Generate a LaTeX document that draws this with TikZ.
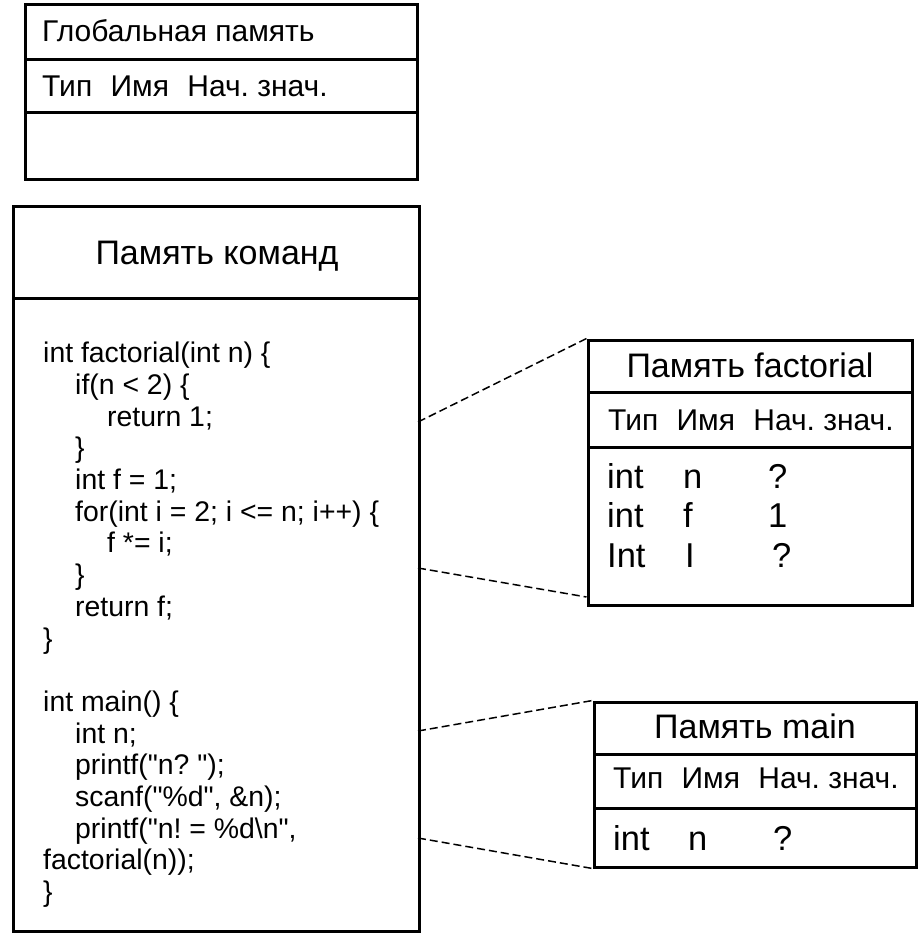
\documentclass[tikz,border=0pt]{standalone}
\usepackage{fontspec}
\setmainfont{Liberation Sans}
\frenchspacing
\begin{document}
\begin{tikzpicture}[x=1pt,y=-1pt,
  frame/.style={draw, line width=3pt, rectangle, inner sep=0pt},
  rule/.style={line width=3pt},
  link/.style={line width=1.5pt, dash pattern=on 8pt off 4pt},
  title/.style={inner sep=0pt, anchor=base, font=\fontsize{34}{40}\selectfont},
  head/.style={inner sep=0pt, anchor=base west, font=\fontsize{30}{35}\selectfont},
  cell/.style={inner sep=0pt, anchor=base west, font=\fontsize{34.5}{40}\selectfont},
  code/.style={inner sep=0pt, anchor=north west, align=left, font=\fontsize{28.4}{31.7}\selectfont}]
\useasboundingbox (0,0) rectangle (918,933);

% global memory table
\node[frame, minimum width=392pt, minimum height=175pt] (glob) at (221,92.5) {};
\draw[rule] (25,60) -- (417,60);
\draw[rule] (25,113) -- (417,113);
\node[head] (globT) at (42,42) {Глобальная память};
\node[head] (globH) at (42,97) {Тип\hspace{10pt} Имя\hspace{10pt} Нач. знач.};

% instruction memory with program text
\node[frame, minimum width=406pt, minimum height=724pt] (cmd) at (216,569) {};
\draw[rule] (13,298) -- (419,298);
\node[title] (cmdT) at (217,264) {Память команд};
\node[code] (src) at (43,342) {%
int factorial(int n) \{\\
\hspace*{32pt}if(n < 2) \{\\
\hspace*{64pt}return 1;\\
\hspace*{32pt}\}\\
\hspace*{32pt}int f = 1;\\
\hspace*{32pt}for(int i = 2; i <= n; i++) \{\\
\hspace*{64pt}f *= i;\\
\hspace*{32pt}\}\\
\hspace*{32pt}return f;\\
\}\\
\mbox{}\\
int main() \{\\
\hspace*{32pt}int n;\\
\hspace*{32pt}printf(\textquotedbl n? \textquotedbl);\\
\hspace*{32pt}scanf(\textquotedbl\%d\textquotedbl, \&n);\\
\hspace*{32pt}printf(\textquotedbl n! = \%d\textbackslash n\textquotedbl,\\
factorial(n));\\
\}};

% frame of factorial()
\node[frame, minimum width=324pt, minimum height=265pt] (fac) at (750,472.5) {};
\draw[rule] (588,392) -- (912,392);
\draw[rule] (588,447) -- (912,447);
\node[title] (facT) at (750,377) {Память factorial};
\node[head] (facH) at (608,430) {Тип\hspace{10pt} Имя\hspace{10pt} Нач. знач.};
\node[cell] (f1a) at (607,488) {int};
\node[cell] (f1b) at (683,488) {n};
\node[cell] (f1c) at (768,488) {?};
\node[cell] (f2a) at (607,527) {int};
\node[cell] (f2b) at (683,527) {f};
\node[cell] (f2c) at (768,527) {1};
\node[cell] (f3a) at (607,567) {Int};
\node[cell] (f3b) at (685,567) {I};
\node[cell] (f3c) at (772,567) {?};

% frame of main()
\node[frame, minimum width=322pt, minimum height=165pt] (mn) at (755,784.5) {};
\draw[rule] (594,754) -- (916,754);
\draw[rule] (594,808) -- (916,808);
\node[title] (mnT) at (755,738) {Память main};
\node[head] (mnH) at (613,788) {Тип\hspace{10pt} Имя\hspace{10pt} Нач. знач.};
\node[cell] (m1a) at (613,850) {int};
\node[cell] (m1b) at (688,850) {n};
\node[cell] (m1c) at (773,850) {?};

% code ranges mapped to their frames
\coordinate (facTop) at (418,422);
\coordinate (facBot) at (418,568);
\coordinate (mnTop) at (418,731);
\coordinate (mnBot) at (418,838);
\draw[link] (facTop) -- (fac.north west);
\draw[link] (facBot) -- (fac.west |- 0,597);
\draw[link] (mnTop) -- (mn.north west);
\draw[link] (mnBot) -- (mn.south west);
\end{tikzpicture}
\end{document}
